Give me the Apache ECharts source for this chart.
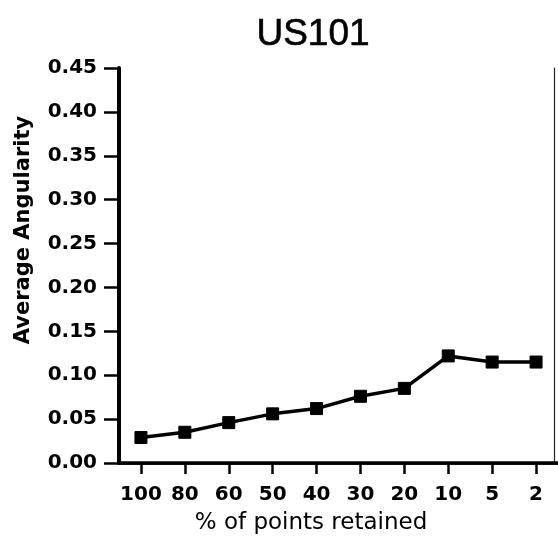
<!DOCTYPE html>
<html>
<head>
<meta charset="utf-8">
<script src="https://cdn.jsdelivr.net/npm/echarts@6/dist/echarts.min.js"></script>
<style>html,body{margin:0;padding:0;background:#fff;}#c{width:558px;height:543px;}</style>
</head>
<body>
<div id="c"></div>
<script>
const titleText = 'US101';
const categories = ['100', '80', '60', '50', '40', '30', '20', '10', '5', '2'];
const angularity = [0.029, 0.035, 0.046, 0.056, 0.062, 0.076, 0.085, 0.122, 0.115, 0.115];
const yTicks = [0, 0.05, 0.10, 0.15, 0.20, 0.25, 0.30, 0.35, 0.40, 0.45];
const xName = '% of points retained';
const yName = 'Average Angularity';

const chart = echarts.init(document.getElementById('c'), null, {renderer: 'canvas'});
const ink = '#000';
chart.setOption({
  animation: false,
  backgroundColor: '#fff',
  title: {
    text: titleText, left: 308, top: 11, textAlign: 'center',
    textStyle: {fontFamily: 'Liberation Sans', fontSize: 37, fontWeight: 'normal', color: ink,
      textBorderColor: ink, textBorderWidth: 0.6}
  },
  grid: {left: 119, top: 68, right: -2, bottom: 80, containLabel: false},
  xAxis: [{
    type: 'category', data: categories, boundaryGap: true,
    axisLine: {show: true, lineStyle: {color: ink, width: 3.5}},
    axisTick: {show: true, alignWithLabel: true, length: 11, inside: false, lineStyle: {color: ink, width: 2.5}},
    axisLabel: {interval: 0, margin: 22, color: ink, fontFamily: 'DejaVu Sans', fontWeight: 'bold', fontSize: 20},
    splitLine: {show: false}
  }, {
    type: 'category', data: categories, position: 'top',
    axisLine: {show: true, lineStyle: {color: ink, width: 2.5}},
    axisTick: {show: false}, axisLabel: {show: false}, splitLine: {show: false}
  }],
  yAxis: [{
    type: 'value', min: 0, max: yTicks[yTicks.length - 1], interval: 0.05,
    axisLine: {show: true, onZero: false, lineStyle: {color: ink, width: 4}},
    axisTick: {show: true, length: 15, lineStyle: {color: ink, width: 2.5}},
    axisLabel: {margin: 22, color: ink, fontFamily: 'DejaVu Sans', fontWeight: 'bold', fontSize: 20,
      formatter: v => v.toFixed(2)},
    splitLine: {show: false}
  }, {
    type: 'value', min: 0, max: yTicks[yTicks.length - 1], interval: 0.05, position: 'right', offset: -4,
    axisLine: {show: true, onZero: false, lineStyle: {color: '#222', width: 1.2}},
    axisTick: {show: false}, axisLabel: {show: false}, splitLine: {show: false}
  }],
  series: [{
    type: 'line', data: angularity, xAxisIndex: 0, yAxisIndex: 0,
    lineStyle: {color: ink, width: 3.5},
    symbol: 'rect', symbolSize: 12,
    itemStyle: {color: ink, borderColor: ink, borderWidth: 1}
  }],
  graphic: [{
    type: 'text', x: 311, y: 523,
    style: {text: xName, x: 0, y: 0, align: 'center', verticalAlign: 'middle',
      font: 'normal 23px "DejaVu Sans"', fill: ink}
  }, {
    type: 'text', x: 24, y: 230, rotation: Math.PI / 2,
    style: {text: yName, x: 0, y: 0, align: 'center', verticalAlign: 'middle',
      font: 'bold 21px "DejaVu Sans"', fill: ink}
  }]
});
</script>
</body>
</html>
